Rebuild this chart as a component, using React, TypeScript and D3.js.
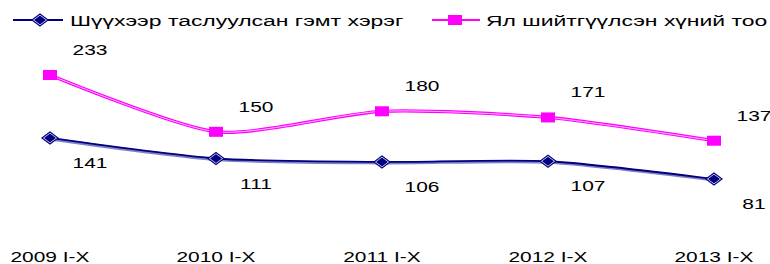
import React from 'react';
import * as d3 from 'd3';

const width = 770, height = 264;

// categories and series values
const periods = ['2009 I-X', '2010 I-X', '2011 I-X', '2012 I-X', '2013 I-X'];
const crimes = [141, 111, 106, 107, 81];
const convicted = [233, 150, 180, 171, 137];
const seriesNames = ['Шүүхээр таслуулсан гэмт хэрэг', 'Ял шийтгүүлсэн хүний тоо'];

const font = '"Liberation Sans", Arial, sans-serif';
const stretch = 1.35; // the source text is wider than normal Arial

const xScale = d3.scalePoint<string>().domain(periods).range([50, 714]);
const yScale = d3.scaleLinear().domain([0, 233]).range([234.5, 75]);

const line = d3.line<number>()
    .x((d, i) => xScale(periods[i]) as number)
    .y(d => yScale(d))
    .curve(d3.curveCardinal.tension(0.3));

// stretched text helper
const Txt = ({ x, y, children, anchor = 'middle', sx = stretch }: any) => (
    <text transform={`translate(${x},${y}) scale(${sx},1)`} textAnchor={anchor}
        fontFamily={font} fontSize={15.5} fill="#000">{children}</text>
);

const Diamond = ({ x, y }: any) => (
    <g transform={`translate(${x},${y})`}>
        <path d="M-8,0L0,-6L8,0L0,6Z" fill="#fff" stroke="#000080" strokeWidth={1.2} />
        <path d="M-6,0L0,-4.5L6,0L0,4.5Z" fill="#000080" />
    </g>
);

const Square = ({ x, y }: any) => (
    <rect x={x - 7} y={y - 5} width={14} height={10} fill="#ff00ff" />
);

export default function App() {
    const pinkPath = line(convicted) as string;
    const bluePath = line(crimes) as string;
    return (
        <svg width={width} height={height} style={{ position: 'absolute', left: 0, top: 0, background: '#fff' }}>
            {/* legend */}
            <line x1={13} x2={63} y1={20} y2={20} stroke="#000080" strokeWidth={2} />
            <Diamond x={40} y={20} />
            <Txt x={70} y={26} anchor="start" sx={1.48}>{seriesNames[0]}</Txt>
            <line x1={432} x2={480} y1={20} y2={20} stroke="#ff00ff" strokeWidth={2} />
            <Square x={455} y={20} />
            <Txt x={486} y={26} anchor="start" sx={1.48}>{seriesNames[1]}</Txt>

            {/* pink series, drawn as a double line */}
            <path d={pinkPath} fill="none" stroke="#ff00ff" strokeWidth={3.2} />
            <path d={pinkPath} fill="none" stroke="#ffb8ff" strokeWidth={1} />
            {/* blue series */}
            <path d={bluePath} fill="none" stroke="#8080c8" strokeWidth={3} transform="translate(0,1)" />
            <path d={bluePath} fill="none" stroke="#000080" strokeWidth={1.8} />

            {convicted.map((v, i) => (
                <g key={'p' + i}>
                    <Square x={xScale(periods[i])} y={yScale(v)} />
                    <Txt x={(xScale(periods[i]) as number) + 40} y={yScale(v) - 20}>{v}</Txt>
                </g>
            ))}
            {crimes.map((v, i) => (
                <g key={'b' + i}>
                    <Diamond x={xScale(periods[i])} y={yScale(v)} />
                    <Txt x={(xScale(periods[i]) as number) + 40} y={yScale(v) + 30}>{v}</Txt>
                </g>
            ))}

            {/* category axis labels */}
            {periods.map(p => (
                <Txt key={p} x={xScale(p)} y={262}>{p}</Txt>
            ))}
        </svg>
    );
}
